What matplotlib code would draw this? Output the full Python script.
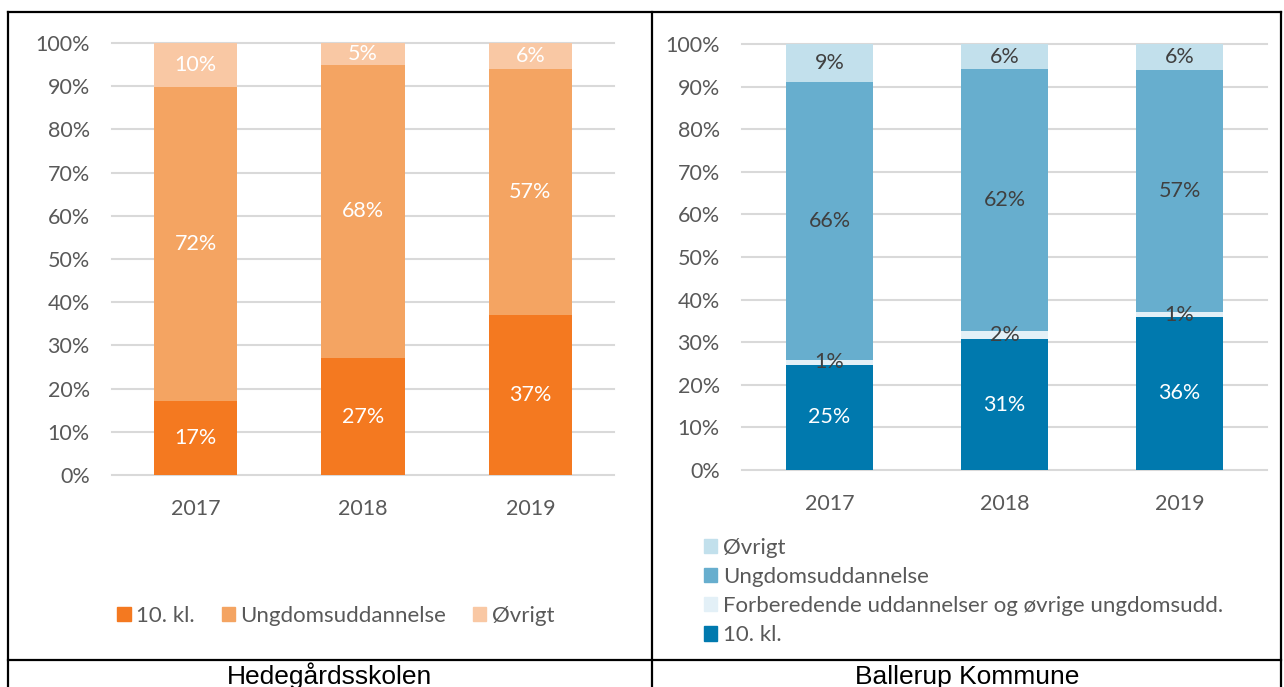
import matplotlib
matplotlib.use("Agg")
import matplotlib.pyplot as plt
from matplotlib.lines import Line2D
from matplotlib.patches import Patch
import numpy as np

years = ["2017", "2018", "2019"]

# Hedegårdsskolen (percent)
hs_10kl = [17, 27, 37]
hs_ungdom = [72, 68, 57]
hs_ovrigt = [10, 5, 6]

# Ballerup Kommune (percent)
bk_10kl = [25, 31, 36]
bk_forb = [1, 2, 1]
bk_ungdom = [66, 62, 57]
bk_ovrigt = [9, 6, 6]

yticks = [0, 10, 20, 30, 40, 50, 60, 70, 80, 90, 100]

W, H = 1284, 687
fig = plt.figure(figsize=(W / 100, H / 100), dpi=100)
FONT = "Lato"
TICKC = "#595959"
FS = 15.5
LFS = 16

def px_axes(x0, x1, ytop, ybot):
    return fig.add_axes([x0 / W, 1 - ybot / H, (x1 - x0) / W, (ybot - ytop) / H])

def style(ax):
    ax.set_xlim(-0.5, 2.5)
    ax.set_ylim(0, 100)
    for s in ax.spines.values():
        s.set_visible(False)
    for v in yticks:
        ax.axhline(v, color="#D9D9D9", lw=1.5, zorder=0, clip_on=False)
    ax.set_yticks(yticks)
    ax.set_yticklabels([f"{v}%" for v in yticks], fontfamily=FONT, fontsize=FS, color=TICKC)
    ax.set_xticks(range(len(years)))
    ax.set_xticklabels(years, fontfamily=FONT, fontsize=FS, color=TICKC)
    ax.tick_params(axis="y", length=0, pad=16)
    ax.tick_params(axis="x", length=0, pad=17)

def stacked(ax, series, colors, labelcolors):
    totals = np.sum(np.array(series, dtype=float), axis=0)
    bottom = np.zeros(len(years))
    x = np.arange(len(years))
    for vals, c, lc in zip(series, colors, labelcolors):
        v = np.array(vals, dtype=float) / totals * 100
        ax.bar(x, v, 0.5, bottom=bottom, color=c, zorder=2)
        for i in range(len(years)):
            ax.text(x[i], bottom[i] + v[i] / 2, f"{vals[i]}%", ha="center", va="center",
                    fontfamily=FONT, fontsize=FS, color=lc, zorder=3)
        bottom += v

# Left chart
axL = px_axes(112, 614, 43, 475)
style(axL)
lc = ["#F47920", "#F4A462", "#F9C8A4"]
stacked(axL, [hs_10kl, hs_ungdom, hs_ovrigt], lc, ["white", "white", "white"])
handlesL = [Patch(color=lc[0], label="10. kl."), Patch(color=lc[1], label="Ungdomsuddannelse"),
            Patch(color=lc[2], label="Øvrigt")]
fig.legend(handles=handlesL, loc="center", bbox_to_anchor=(336 / W, 1 - 616 / H), ncol=3,
           frameon=False, handlelength=0.6, handleheight=0.6, handletextpad=0.25,
           columnspacing=1.2, prop={"family": FONT, "size": LFS}, labelcolor=TICKC)

# Right chart
axR = px_axes(742, 1267, 44, 470)
style(axR)
rc = ["#0079AE", "#E3F0F7", "#67AECE", "#C2E0EC"]
stacked(axR, [bk_10kl, bk_forb, bk_ungdom, bk_ovrigt], rc, ["white", "#404040", "#404040", "#404040"])
handlesR = [Patch(color=rc[3], label="Øvrigt"), Patch(color=rc[2], label="Ungdomsuddannelse"),
            Patch(color=rc[1], label="Forberedende uddannelser og øvrige ungdomsudd."),
            Patch(color=rc[0], label="10. kl.")]
fig.legend(handles=handlesR, loc="upper left", bbox_to_anchor=(684 / W, 1 - 518 / H), ncol=1,
           frameon=False, handlelength=0.6, handleheight=0.6, handletextpad=0.25,
           labelspacing=0.41, prop={"family": FONT, "size": LFS}, labelcolor=TICKC)

# Table borders
def fline(x0, y0, x1, y1):
    fig.add_artist(Line2D([x0 / W, x1 / W], [1 - y0 / H, 1 - y1 / H], color="black", lw=1.6))

fline(8, 12, 1281, 12)
fline(8, 12, 8, 687)
fline(652, 12, 652, 687)
fline(1281, 12, 1281, 687)
fline(8, 660, 1281, 660)

fig.text(330 / W, 1 - 684 / H, "Hedegårdsskolen", ha="center", va="baseline",
         fontfamily="Liberation Sans", fontsize=19, color="black")
fig.text(967 / W, 1 - 684 / H, "Ballerup Kommune", ha="center", va="baseline",
         fontfamily="Liberation Sans", fontsize=19, color="black")

fig.savefig("out.png", dpi=100)
